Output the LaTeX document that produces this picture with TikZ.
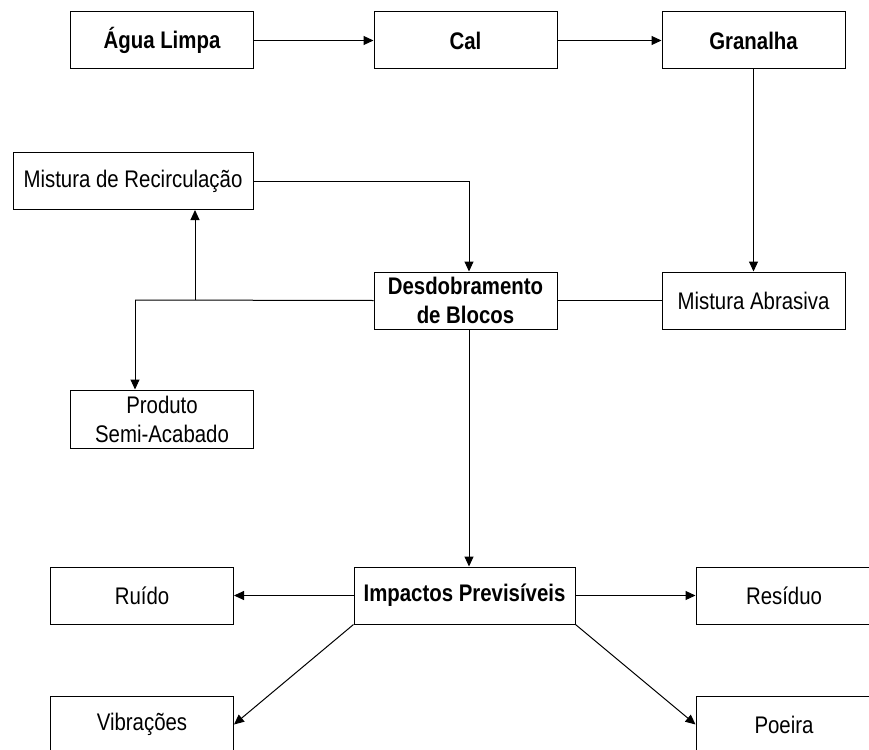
\documentclass[tikz,border=0pt]{standalone}
\usepackage{fontspec}
\setmainfont{Liberation Sans}[FakeStretch=0.85]
\usetikzlibrary{positioning,arrows.meta}

\begin{document}
\begin{tikzpicture}[x=1pt,y=-1pt,
    box/.style={draw, line width=1pt, minimum width=183pt, minimum height=57pt,
        inner sep=0pt, align=center, font=\fontsize{24}{29}\selectfont},
    boxb/.style={box, font=\fontsize{24}{29}\selectfont\bfseries},
    seta/.style={line width=1pt, -{Triangle[length=10pt,width=9pt]}},
    linha/.style={line width=1pt}]
    \clip (0,0) rectangle (869,749);

    % entradas
    \node[boxb] (agua) at (162,40.5) {Água Limpa};
    \node[boxb] (cal) at (465.5,40.5) {Cal};
    \node[boxb] (granalha) at (753.5,40.5) {Granalha};

    % processo
    \node[box, minimum width=240pt] (recirc) at (133,181) {Mistura de Recirculação};
    \node[boxb] (desdob) at (465.5,300.5) {Desdobramento\\de Blocos};
    \node[box] (abrasiva) at (753.5,300.5) {Mistura Abrasiva};
    \node[box, minimum height=58pt] (produto) at (162,419) {Produto\\Semi-Acabado};

    % impactos
    \node[boxb, minimum width=221pt] (impactos) at (464.5,595.5) {Impactos Previsíveis};
    \node[box] (ruido) at (142,595.5) {Ruído};
    \node[box, minimum width=176pt] (residuo) at (784,595.5) {Resíduo};
    \node[box] (vibracoes) at (142,724.5) {Vibrações};
    \node[box, minimum width=176pt] (poeira) at (784,724.5) {Poeira};

    \coordinate (jP) at (135,300);
    \coordinate (jR) at (195,300);
    \coordinate (jD) at (469,300);

    \draw[seta] (agua) -- (cal);
    \draw[seta] (cal) -- (granalha);
    \draw[seta] (granalha) -- (abrasiva);
    \draw[linha] (abrasiva) -- (desdob);
    \draw[linha] (desdob.west) -- (jP);
    \draw[seta] (jP) -- (jP |- produto.north);
    \draw[seta] (jR) -- (jR |- recirc.south);
    \draw[seta] (recirc.east) -| (jD |- desdob.north);
    \draw[seta] (jD |- desdob.south) -- (jD |- impactos.north);
    \draw[seta] (impactos) -- (ruido);
    \draw[seta] (impactos) -- (residuo);
    \draw[seta] (impactos.south west) -- (vibracoes.east);
    \draw[seta] (impactos.south east) -- (poeira.west);
\end{tikzpicture}
\end{document}
